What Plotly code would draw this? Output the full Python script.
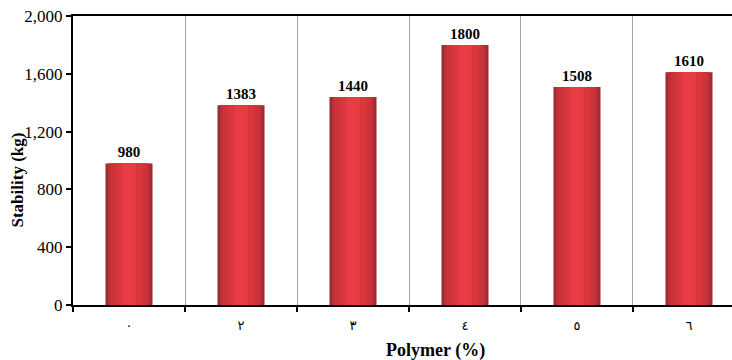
import plotly.graph_objects as go

# Marshall stability versus polymer content
polymer_pct = [0, 2, 3, 4, 5, 6]
tick_labels = ["٠", "٢", "٣", "٤", "٥", "٦"]
stability_kg = [980, 1383, 1440, 1800, 1508, 1610]

positions = list(range(len(polymer_pct)))

SERIF = "Liberation Serif, Times New Roman, serif"

# Cylinder-like shading: stacked overlays from dark edge to bright core
shading = [
    (0.42, "#9c2b2f"),
    (0.38, "#b82f35"),
    (0.33, "#cc3239"),
    (0.24, "#db363c"),
    (0.12, "#e63c42"),
]

fig = go.Figure()
for i, (w, c) in enumerate(shading):
    fig.add_trace(go.Bar(
        x=positions,
        y=stability_kg,
        width=w,
        marker=dict(color=c, line=dict(width=0)),
        text=[str(v) for v in stability_kg] if i == 0 else None,
        textposition="outside" if i == 0 else "none",
        textfont=dict(family=SERIF, size=15, color="black", weight="bold"),
        cliponaxis=False,
        hoverinfo="skip",
        showlegend=False,
    ))

fig.update_layout(
    width=732,
    height=360,
    barmode="overlay",
    margin=dict(l=73, r=0, t=16, b=55),
    paper_bgcolor="white",
    plot_bgcolor="white",
    font=dict(family=SERIF, color="black"),
    xaxis=dict(
        range=[-0.5, 5.384],
        tickmode="array",
        tickvals=positions,
        ticktext=tick_labels,
        ticks="",
        ticklabelstandoff=7,
        tickfont=dict(family="DejaVu Sans, sans-serif", size=13, color="black"),
        showgrid=False,
        showline=True,
        linecolor="black",
        linewidth=2,
        mirror=True,
        zeroline=False,
        minor=dict(
            tick0=0.5,
            dtick=1,
            ticks="outside",
            ticklen=5,
            tickwidth=2,
            tickcolor="black",
            showgrid=True,
            gridcolor="#a6a6a6",
            gridwidth=1,
        ),
    ),
    yaxis=dict(
        range=[0, 2000],
        tick0=0,
        dtick=400,
        tickformat=",",
        ticks="outside",
        ticklen=5,
        tickwidth=2,
        tickcolor="black",
        tickfont=dict(family=SERIF, size=17, color="black"),
        showgrid=False,
        showline=True,
        linecolor="black",
        linewidth=2,
        zeroline=False,
    ),
    annotations=[
        dict(
            text="Stability (kg)",
            xref="paper", yref="paper",
            x=0, y=0.5, xshift=-56, yshift=-20,
            xanchor="center", yanchor="middle",
            textangle=-90,
            showarrow=False,
            font=dict(family=SERIF, size=17, color="black", weight="bold"),
        ),
        dict(
            text="Polymer (%)",
            xref="paper", yref="paper",
            x=0.55, y=0, yshift=-45,
            xanchor="center", yanchor="middle",
            showarrow=False,
            font=dict(family=SERIF, size=18, color="black", weight="bold"),
        ),
    ],
)

fig.write_html("out.html")
